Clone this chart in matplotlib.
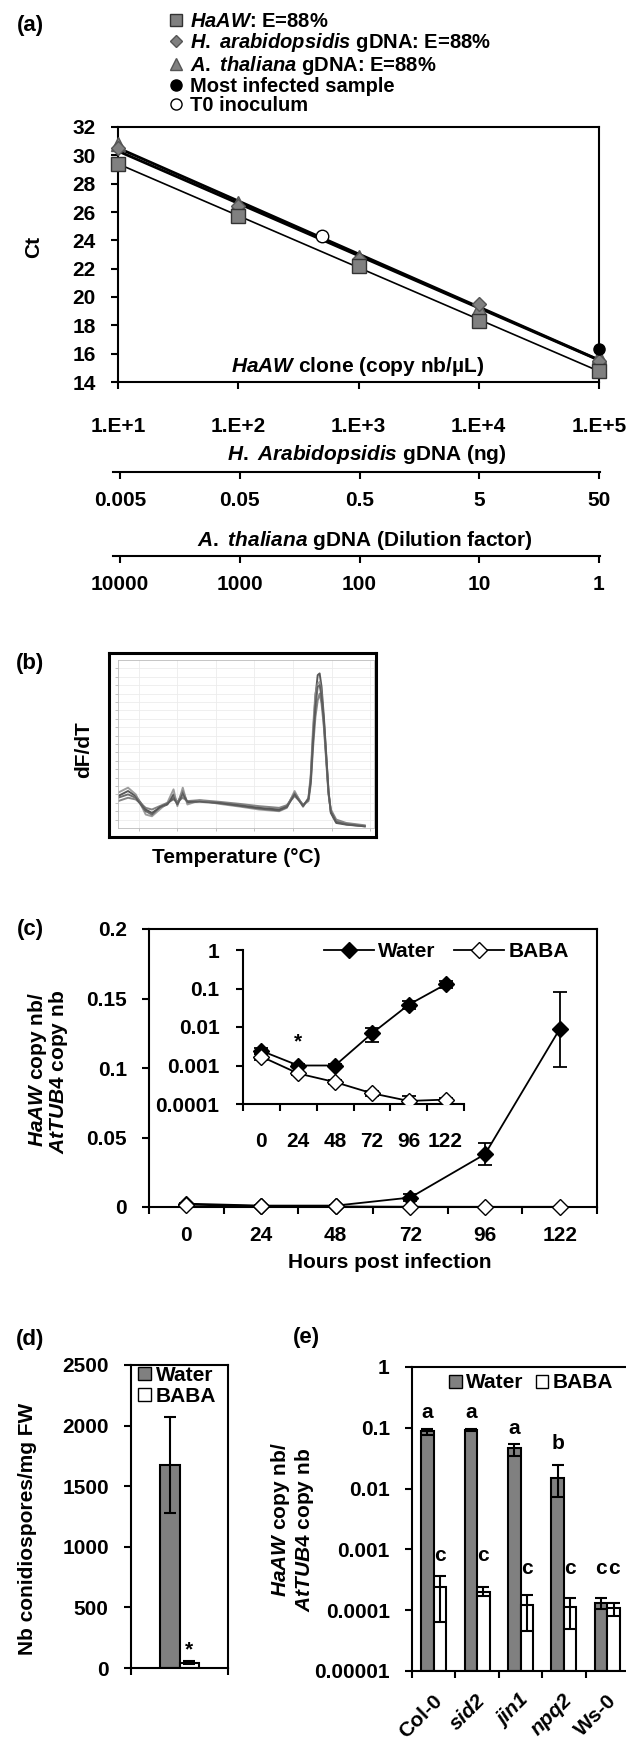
import numpy as np
import matplotlib
matplotlib.use('Agg')
import matplotlib.pyplot as plt
from matplotlib.lines import Line2D
from matplotlib.patches import Patch
from matplotlib.transforms import blended_transform_factory

plt.rcParams['font.family'] = ['Liberation Sans', 'DejaVu Sans']
plt.rcParams['font.weight'] = 'bold'
plt.rcParams['font.size'] = 15
plt.rcParams['mathtext.fontset'] = 'custom'
plt.rcParams['mathtext.it'] = 'Liberation Sans:italic:bold'
plt.rcParams['mathtext.rm'] = 'Liberation Sans:bold'
plt.rcParams['mathtext.bf'] = 'Liberation Sans:bold'
plt.rcParams['axes.linewidth'] = 1.5
plt.rcParams['xtick.major.width'] = 1.5
plt.rcParams['ytick.major.width'] = 1.5
plt.rcParams['xtick.major.size'] = 5
plt.rcParams['ytick.major.size'] = 5

# (a) standard curves
std_copies = [1e1, 1e2, 1e3, 1e4, 1e5]
std_copy_labels = ['1.E+1', '1.E+2', '1.E+3', '1.E+4', '1.E+5']
ct_haaw = [29.4, 25.7, 22.2, 18.3, 14.8]
ct_hpa_gdna = [30.5, 26.4, 22.7, 19.5, 15.5]
ct_ath_gdna = [30.8, 26.6, 22.8, 19.2, 15.8]
most_infected = (1e5, 16.3)
t0_inoculum = (5e2, 24.3)
hpa_ng = [0.005, 0.05, 0.5, 5, 50]
hpa_ng_labels = ['0.005', '0.05', '0.5', '5', '50']
ath_dilution = [10000, 1000, 100, 10, 1]
ath_dilution_labels = ['10000', '1000', '100', '10', '1']

# (b) melt curves (a few representative traces)
melt_temp = [62.3, 63.6, 64.6, 65.9, 66.7, 67.7, 68.7, 69.5, 70.0, 70.7, 71.3,
             72.9, 75.4, 78.0, 80.6, 83.2, 84.2, 85.2, 86.3, 87.0, 87.3, 87.6,
             87.9, 88.2, 88.45, 88.7, 89.0, 89.3, 89.6, 89.9, 90.6, 91.9, 94.3]
melt_trace1 = [9.5, 11.0, 9.5, 5.5, 4.5, 6.0, 7.0, 10.0, 7.3, 11.0, 7.5,
               8.0, 7.5, 6.8, 6.0, 5.5, 6.5, 10.5, 6.7, 8.5, 15.0, 28.0,
               39.0, 45.5, 46.0, 42.0, 33.0, 22.0, 11.0, 4.5, 1.5, 1.0, 0.5]
melt_trace2 = [8.0, 9.0, 8.5, 6.0, 5.5, 6.5, 7.5, 8.5, 7.8, 9.0, 8.0,
               8.3, 7.8, 7.2, 6.5, 6.0, 6.8, 9.5, 7.0, 8.0, 13.0, 24.0,
               33.0, 38.0, 40.0, 37.0, 30.0, 20.0, 10.0, 5.5, 2.5, 1.5, 0.8]
melt_trace3 = [10.5, 12.0, 10.0, 4.0, 3.5, 5.5, 7.5, 11.5, 6.5, 12.0, 7.0,
               8.2, 7.2, 6.4, 5.5, 5.0, 6.0, 11.0, 6.3, 9.0, 16.0, 30.0,
               40.0, 43.0, 43.5, 40.0, 31.0, 21.0, 10.5, 5.0, 2.0, 1.2, 0.6]
melt_trace4 = [9.0, 10.0, 9.0, 5.0, 4.0, 6.2, 7.2, 9.0, 7.0, 10.0, 7.8,
               7.8, 7.4, 6.6, 5.8, 5.2, 6.2, 10.0, 6.5, 8.8, 14.0, 26.0,
               36.0, 42.0, 42.5, 39.0, 32.0, 21.5, 10.8, 4.8, 1.8, 1.1, 0.5]
melt_traces = [melt_trace1, melt_trace2, melt_trace3, melt_trace4]

# (c) time course
hpi = ['0', '24', '48', '72', '96', '122']
water_ratio = [0.0024, 0.001, 0.001, 0.0068, 0.038, 0.128]
water_err = [0.0004, 0.0001, 0.0001, 0.0027, 0.008, 0.027]
baba_ratio = [0.0017, 0.00062, 0.00037, 0.00019, 0.00012, 0.00013]
baba_err = [0.0003, 0.00005, 0.00004, 0.00003, 0.00004, 0.00001]

# (d) conidiospores
spore_groups = ['Water', 'BABA']
spores_mean = [1675, 45]
spores_err = [400, 10]

# (e) genotypes
genotypes = ['Col-0', 'sid2', 'jin1', 'npq2', 'Ws-0']
genotype_italic = [False, True, True, True, False]
e_water = [0.088, 0.092, 0.047, 0.015, 0.00013]
e_water_lo = [0.075, 0.087, 0.035, 0.0072, 0.000104]
e_water_hi = [0.097, 0.097, 0.055, 0.024, 0.000157]
e_baba = [0.00024, 0.00020, 0.00012, 0.000115, 0.000107]
e_baba_lo = [0.000063, 0.00017, 0.000045, 0.00005, 0.00008]
e_baba_hi = [0.00037, 0.00024, 0.00018, 0.00016, 0.00013]
water_letters = ['a', 'a', 'a', 'b', 'c']
baba_letters = ['c', 'c', 'c', 'c', 'c']
water_letter_y = [0.18, 0.18, 0.096, 0.055, 0.00049]
baba_letter_y = [0.00079, 0.00079, 0.00049, 0.00049, 0.00049]

GREY = '#808080'
W, H = 626, 1738
fig = plt.figure(figsize=(W / 100, H / 100), dpi=100)


def px_axes(l, t, r, b):
    return fig.add_axes([l / W, 1 - b / H, (r - l) / W, (b - t) / H])


def px_point(x, y):
    return (x / W, 1 - y / H)


def px_text(x, y, s, **kw):
    kw.setdefault('ha', 'center')
    kw.setdefault('va', 'center')
    return fig.text(x / W, 1 - y / H, s, **kw)


# ---------------- (a) ----------------
px_text(30, 25, '(a)', fontsize=16)
ax = px_axes(118, 127, 599, 382)
ax.set_xscale('log')
logx = np.log10(std_copies)
for ct, lw in [(ct_haaw, 1.2), (ct_hpa_gdna, 2.0), (ct_ath_gdna, 2.0)]:
    slope, icpt = np.polyfit(logx, ct, 1)
    ax.plot(std_copies, slope * logx + icpt, color='black', lw=lw, zorder=2)
ax.plot(std_copies, ct_ath_gdna, '^', ms=10, mfc=GREY, mec='#555555', clip_on=False, zorder=3)
ax.plot(std_copies, ct_hpa_gdna, 'D', ms=7, mfc=GREY, mec='#555555', clip_on=False, zorder=3)
ax.plot(std_copies, ct_haaw, 's', ms=9.5, mfc=GREY, mec='#333333', clip_on=False, zorder=4)
ax.plot([most_infected[0]], [most_infected[1]], 'o', ms=8, color='black', clip_on=False, zorder=5)
ax.plot([t0_inoculum[0]], [t0_inoculum[1]], 'o', ms=9, mfc='white', mec='black', zorder=5)
ax.set_xlim(10, 1e5)
ax.set_ylim(14, 32)
ax.set_yticks(range(14, 33, 2))
ax.set_xticks(std_copies)
ax.set_xticklabels(std_copy_labels)
ax.minorticks_off()
ax.tick_params(axis='y', pad=11)
ax.tick_params(axis='x', pad=20)
px_text(34, 247, 'Ct', rotation=90)
px_text(358, 367, r'$\mathit{HaAW}$ clone (copy nb/µL)')

legend_handles = [
    Line2D([], [], ls='none', marker='s', ms=9, mfc=GREY, mec='#333333'),
    Line2D([], [], ls='none', marker='D', ms=6, mfc=GREY, mec='#555555'),
    Line2D([], [], ls='none', marker='^', ms=8, mfc=GREY, mec='#555555'),
    Line2D([], [], ls='none', marker='o', ms=8, color='black'),
    Line2D([], [], ls='none', marker='o', ms=8, mfc='white', mec='black'),
]
legend_labels = [r'$\mathit{HaAW}$: E=88%', r'$\mathit{H.}$ $\mathit{arabidopsidis}$ gDNA: E=88%',
                 r'$\mathit{A.}$ $\mathit{thaliana}$ gDNA: E=88%', 'Most infected sample', 'T0 inoculum']
fig.legend(legend_handles, legend_labels, loc='upper left', bbox_to_anchor=px_point(168, 12),
           frameon=False, fontsize=14.5, handlelength=0.8, handletextpad=0.3,
           labelspacing=0.0, borderpad=0, borderaxespad=0)


def extra_axis(y_line, values, labels):
    l, r = 113, 600
    t0, t1 = 120, 599
    a = px_axes(l, y_line - 20, r, y_line)
    a.set_xscale('log')
    s = (np.log10(values[-1]) - np.log10(values[0])) / (t1 - t0)
    a.set_xlim(10 ** (np.log10(values[0]) + (l - t0) * s), 10 ** (np.log10(values[0]) + (r - t0) * s))
    for side in ['left', 'right', 'top']:
        a.spines[side].set_visible(False)
    a.set_yticks([])
    a.set_xticks(values)
    a.set_xticklabels(labels)
    a.minorticks_off()
    a.tick_params(axis='x', pad=9)
    a.patch.set_visible(False)
    return a


extra_axis(472, hpa_ng, hpa_ng_labels)
px_text(367, 455, r'$\mathit{H.}$ $\mathit{Arabidopsidis}$ gDNA (ng)')
extra_axis(556, ath_dilution, ath_dilution_labels)
px_text(365, 540, r'$\mathit{A.}$ $\mathit{thaliana}$ gDNA (Dilution factor)')

# ---------------- (b) ----------------
px_text(30, 663, '(b)', fontsize=16)
outer = px_axes(109, 653, 376, 837)
outer.set_xticks([])
outer.set_yticks([])
for sp in outer.spines.values():
    sp.set_linewidth(2.2)
inner = px_axes(118, 660, 374, 828)
inner.set_xlim(62.3, 95.5)
inner.set_ylim(0, 50)
inner.set_xticks([65, 70, 75, 80, 85, 90, 95])
inner.set_yticks(np.arange(2.5, 50, 2.5))
inner.set_xticklabels([])
inner.set_yticklabels([])
inner.tick_params(length=2, width=0.5, color='#aaaaaa')
inner.grid(True, color='#ececec', lw=0.6)
for sp in inner.spines.values():
    sp.set_linewidth(0.6)
    sp.set_color('#bbbbbb')
for trace, col in zip(melt_traces, ['#3c3c3c', '#707070', '#8c8c8c', '#555555']):
    inner.plot(melt_temp, trace, color=col, lw=1.4, alpha=0.85)
px_text(84, 750, 'dF/dT', rotation=90)
px_text(236, 858, 'Temperature (°C)')

# ---------------- (c) ----------------
px_text(30, 930, '(c)', fontsize=16)
axc = px_axes(149, 929, 597, 1207)
xc = np.arange(len(hpi))
axc.errorbar(xc, water_ratio, yerr=water_err, color='black', marker='D', ms=8, lw=1.3,
             capsize=5, elinewidth=1.3, capthick=1.3, clip_on=False, zorder=3)
axc.errorbar(xc, baba_ratio, yerr=baba_err, color='black', marker='D', ms=8, mfc='white', lw=1.3,
             capsize=5, elinewidth=1.3, capthick=1.3, clip_on=False, zorder=4)
axc.set_xlim(-0.5, 5.5)
axc.set_ylim(0, 0.2)
axc.set_yticks([0, 0.05, 0.1, 0.15, 0.2])
axc.set_yticklabels(['0', '0.05', '0.1', '0.15', '0.2'])
axc.set_xticks(np.arange(-0.5, 6, 1))
axc.set_xticklabels([])
axc.set_xticks(xc, minor=True)
axc.set_xticklabels(hpi, minor=True)
axc.tick_params(axis='x', which='minor', length=0, pad=14)
axc.tick_params(axis='y', pad=11)
px_text(390, 1263, 'Hours post infection')
px_text(38, 1070, r'$\mathit{HaAW}$ copy nb/', rotation=90)
px_text(58, 1072, r'$\mathit{AtTUB4}$ copy nb', rotation=90)

axi = px_axes(243, 950, 464, 1104)
axi.set_yscale('log')
axi.errorbar(xc, water_ratio, yerr=water_err, color='black', marker='D', ms=8, lw=1.3,
             capsize=5, elinewidth=1.3, capthick=1.3, zorder=3)
axi.errorbar(xc, baba_ratio, yerr=baba_err, color='black', marker='D', ms=8, mfc='white', lw=1.3,
             capsize=5, elinewidth=1.3, capthick=1.3, zorder=4)
axi.set_ylim(1e-4, 1)
axi.set_xlim(-0.5, 5.5)
axi.set_yticks([1e-4, 1e-3, 1e-2, 1e-1, 1])
axi.set_yticklabels(['0.0001', '0.001', '0.01', '0.1', '1'])
axi.minorticks_off()
axi.set_xticks(np.arange(-0.5, 6, 1))
axi.set_xticklabels([])
axi.set_xticks(xc, minor=True)
axi.set_xticklabels(hpi, minor=True)
axi.tick_params(axis='x', which='minor', length=0, pad=20)
axi.tick_params(axis='y', pad=12)
axi.spines['top'].set_visible(False)
axi.spines['right'].set_visible(False)
axi.patch.set_visible(False)
axi.text(1, 0.004, '*', ha='center', va='center', fontsize=15)
inset_handles = [Line2D([], [], color='black', marker='D', ms=8, lw=1.3),
                 Line2D([], [], color='black', marker='D', ms=8, mfc='white', lw=1.3)]
fig.legend(inset_handles, ['Water', 'BABA'], loc='center left', bbox_to_anchor=px_point(324, 952),
           ncol=2, frameon=False, fontsize=15, handlelength=2.4, handletextpad=0.2,
           columnspacing=0.9, borderpad=0, borderaxespad=0)

# ---------------- (d) ----------------
px_text(30, 1340, '(d)', fontsize=16)
axd = px_axes(131, 1365, 228, 1668)
xd = [-0.1, 0.1]
axd.bar(xd, spores_mean, width=0.2, color=[GREY, 'white'], edgecolor='black', lw=1.5, zorder=2)
axd.errorbar(xd, spores_mean, yerr=spores_err, fmt='none', ecolor='black', elinewidth=1.5,
             capsize=4, capthick=1.5, zorder=3)
axd.set_xlim(-0.5, 0.5)
axd.set_ylim(0, 2500)
axd.set_yticks(range(0, 2501, 500))
axd.set_xticks([-0.5, 0.5])
axd.set_xticklabels([])
axd.tick_params(axis='y', pad=11)
axd.text(0.1, 150, '*', ha='center', va='center', fontsize=15)
px_text(28, 1529, 'Nb conidiospores/mg FW', rotation=90)
fig.legend([Patch(fc=GREY, ec='black'), Patch(fc='white', ec='black')], spore_groups,
           loc='upper left', bbox_to_anchor=px_point(138, 1366), frameon=False, fontsize=15,
           handlelength=0.6, handleheight=0.6, handletextpad=0.25, labelspacing=0.1,
           borderpad=0, borderaxespad=0)

# ---------------- (e) ----------------
px_text(306, 1338, '(e)', fontsize=16)
axe = px_axes(412, 1367, 629, 1671)
axe.set_yscale('log')
xe = np.arange(len(genotypes))
floor = 1e-5
axe.bar(xe - 0.145, np.array(e_water) - floor, bottom=floor, width=0.29, color=GREY,
        edgecolor='black', lw=1.5, zorder=2)
axe.bar(xe + 0.145, np.array(e_baba) - floor, bottom=floor, width=0.29, color='white',
        edgecolor='black', lw=1.5, zorder=2)
axe.errorbar(xe - 0.145, e_water, yerr=[np.subtract(e_water, e_water_lo), np.subtract(e_water_hi, e_water)],
             fmt='none', ecolor='black', elinewidth=1.5, capsize=4, capthick=1.5, zorder=3)
axe.errorbar(xe + 0.145, e_baba, yerr=[np.subtract(e_baba, e_baba_lo), np.subtract(e_baba_hi, e_baba)],
             fmt='none', ecolor='black', elinewidth=1.5, capsize=4, capthick=1.5, zorder=3)
for i in range(len(genotypes)):
    axe.text(i - 0.145, water_letter_y[i], water_letters[i], ha='center', va='center', fontsize=15)
    axe.text(i + 0.145, baba_letter_y[i], baba_letters[i], ha='center', va='center', fontsize=15)
axe.set_xlim(-0.5, 4.5)
axe.set_ylim(1e-5, 1)
axe.set_yticks([1e-5, 1e-4, 1e-3, 1e-2, 1e-1, 1])
axe.set_yticklabels(['0.00001', '0.0001', '0.001', '0.01', '0.1', '1'])
axe.minorticks_off()
axe.set_xticks(np.arange(-0.5, 5, 1))
axe.set_xticklabels([])
axe.tick_params(axis='y', pad=11)
trans = blended_transform_factory(axe.transData, axe.transAxes)
for i, (g, it) in enumerate(zip(genotypes, genotype_italic)):
    axe.text(i + 0.22, -0.1, g, transform=trans, rotation=45, ha='right', va='baseline',
             rotation_mode='anchor', style='italic' if it else 'normal', clip_on=False)
px_text(281, 1520, r'$\mathit{HaAW}$ copy nb/', rotation=90)
px_text(304, 1530, r'$\mathit{AtTUB4}$ copy nb', rotation=90)
fig.legend([Patch(fc=GREY, ec='black'), Patch(fc='white', ec='black')], spore_groups,
           loc='center left', bbox_to_anchor=px_point(449, 1383), ncol=2, frameon=False,
           fontsize=15, handlelength=0.6, handleheight=0.6, handletextpad=0.2,
           columnspacing=0.6, borderpad=0, borderaxespad=0)

fig.savefig('out.png', dpi=100)
